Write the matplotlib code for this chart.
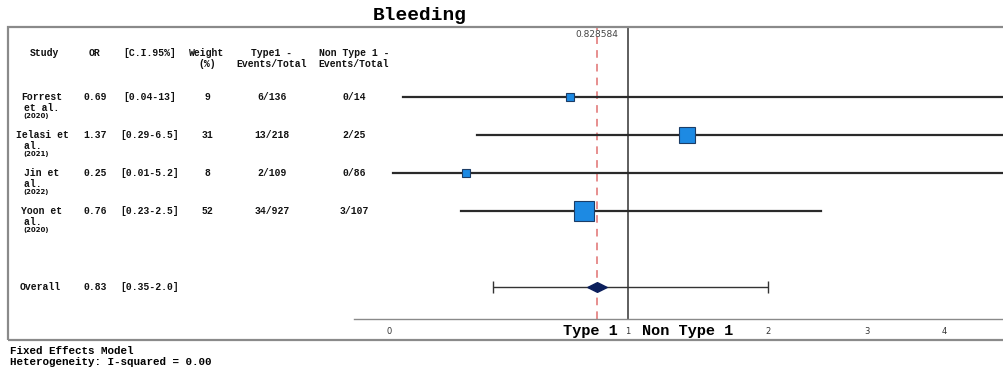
import numpy as np
import matplotlib
matplotlib.use('Agg')
import matplotlib.pyplot as plt
from matplotlib import transforms
from matplotlib.patches import Rectangle

studies = [['Forrest', 'et al.'], ['Ielasi et', 'al.   '], ['Jin et', 'al.   '], ['Yoon et', 'al.   ']]
years = ['(2020)', '(2021)', '(2022)', '(2020)']
odds = [0.69, 1.37, 0.25, 0.76]
ci_low = [0.04, 0.29, 0.01, 0.23]
ci_high = [13, 6.5, 5.2, 2.5]
weights = [9, 31, 8, 52]
type1 = ['6/136', '13/218', '2/109', '34/927']
non_type1 = ['0/14', '2/25', '0/86', '3/107']

overall_or = 0.828584
overall_low = 0.35
overall_high = 2.0
overall_ci_txt = '[0.35-2.0]'

ticks = [0, 1, 2, 3, 4]

W, H = 1004, 367
MONO = 'Liberation Mono'

fig = plt.figure(figsize=(W / 100, H / 100), dpi=100)

# cornice esterna
fig.patches.append(Rectangle((8 / W, 1 - 340 / H), 1.1, (340 - 27) / H, transform=fig.transFigure,
                             fill=False, edgecolor='#8a8a8a', linewidth=1.6))
fig.text(420 / W, 1 - 16 / H, 'Bleeding', family=MONO, weight='bold', fontsize=14,
         ha='center', va='center')

ax = fig.add_axes([354 / W, 1 - 319 / H, 650 / W, 292 / H])
ax.set_xscale('function', functions=(np.log1p, np.expm1))
ax.set_xlim(-0.097, 4.95)
ax.set_ylim(5.84, -1.84)
ax.patch.set_alpha(0)
for s in ['top', 'left', 'right']:
    ax.spines[s].set_visible(False)
ax.spines['bottom'].set_color('#8a8a8a')
ax.spines['bottom'].set_linewidth(1.0)
ax.set_yticks([])
ax.set_xticks(ticks)
ax.set_xticklabels([str(t) for t in ticks], fontsize=6, color='#333333', family='DejaVu Sans')
ax.xaxis.set_minor_locator(plt.NullLocator())
ax.tick_params(axis='x', length=0, pad=6)

ax.axvline(1, color='#333333', linewidth=1.1, zorder=1)
ax.axvline(overall_or, color='#e07070', linewidth=1.1, linestyle=(0, (5, 4)), zorder=1)
ax.text(overall_or, -1.76, '%g' % overall_or, ha='center', va='top', fontsize=6.5,
        color='#444444', family='DejaVu Sans')

rows = np.arange(len(odds))
for i in rows:
    ax.plot([ci_low[i], ci_high[i]], [i, i], color='#2a2a2a', linewidth=1.6, zorder=2)
    ax.plot(odds[i], i, marker='s', markersize=1.95 * np.sqrt(weights[i]),
            markerfacecolor='#1d8ae3', markeredgecolor='#1c3d66', markeredgewidth=0.8, zorder=3)

y_overall = 5
ax.errorbar(overall_or, y_overall, xerr=[[overall_or - overall_low], [overall_high - overall_or]],
            fmt='none', ecolor='#333333', elinewidth=1.0, capsize=4, capthick=1.0, zorder=2)
diamond = [(-1, 0), (0, 0.5), (1, 0), (0, -0.5), (-1, 0)]
ax.plot(overall_or, y_overall, marker=diamond, markersize=14, color='#0b1f5c', zorder=3)

bl = transforms.blended_transform_factory(ax.transData, ax.transAxes)
ax.text(0.94, -0.042, 'Type 1', transform=bl, ha='right', va='center', family=MONO,
        weight='bold', fontsize=11)
ax.text(1.08, -0.042, 'Non Type 1', transform=bl, ha='left', va='center', family=MONO,
        weight='bold', fontsize=11)

# tabella a sinistra
tr = transforms.blended_transform_factory(fig.transFigure, ax.transData)
def off(dy):
    return transforms.offset_copy(tr, fig=fig, y=-dy, units='points')

tab = dict(family=MONO, weight='bold', fontsize=7, ha='center', va='center', color='#111111')
head = dict(family=MONO, weight='bold', fontsize=7, ha='center', va='top', color='#111111')
head_y = -1.29
headers = [('Study', 45), ('OR', 95), ('[C.I.95%]', 150), ('Weight\n(%)', 207),
           ('Type1 -\nEvents/Total', 272), ('Non Type 1 -\nEvents/Total', 354)]
for txt, x in headers:
    ax.text(x / W, head_y, txt, transform=off(0), linespacing=1.15, **head)

for i in rows:
    ax.text(42 / W, i, studies[i][0], transform=off(0), **tab)
    ax.text(42 / W, i, studies[i][1], transform=off(8), **tab)
    ax.text(36 / W, i, years[i], transform=off(13.5), family='DejaVu Sans', weight='bold',
            fontsize=5, ha='center', va='center', color='#111111')
    ax.text(95 / W, i, '%.2f' % odds[i], transform=off(0), **tab)
    ax.text(150 / W, i, '[%g-%g]' % (ci_low[i], ci_high[i]), transform=off(0), **tab)
    ax.text(207 / W, i, str(weights[i]), transform=off(0), **tab)
    ax.text(272 / W, i, type1[i], transform=off(0), **tab)
    ax.text(354 / W, i, non_type1[i], transform=off(0), **tab)

ax.text(40 / W, y_overall, 'Overall', transform=off(0), **tab)
ax.text(95 / W, y_overall, '%.2f' % overall_or, transform=off(0), **tab)
ax.text(150 / W, y_overall, overall_ci_txt, transform=off(0), **tab)

fig.text(10 / W, 1 - 351 / H, 'Fixed Effects Model', family=MONO, weight='bold', fontsize=7.8, va='center')
fig.text(10 / W, 1 - 362 / H, 'Heterogeneity: I-squared = 0.00', family=MONO, weight='bold',
         fontsize=7.8, va='center')

fig.savefig('out.png', dpi=100)
